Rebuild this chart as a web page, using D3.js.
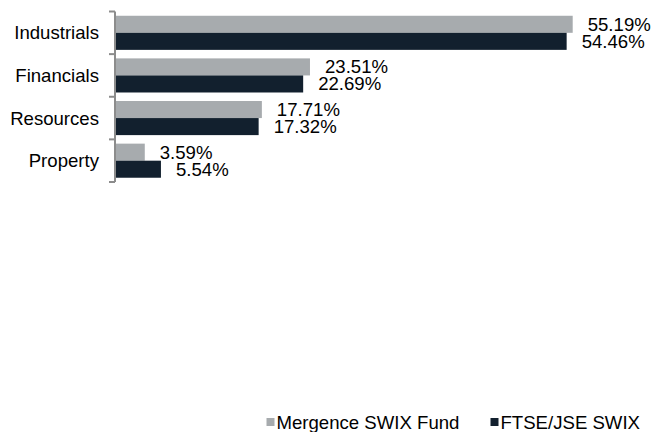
<!DOCTYPE html>
<html>
<head>
<meta charset="utf-8">
<script src="https://cdn.jsdelivr.net/npm/d3@7"></script>
<style>
  body { margin: 0; background: #fff; }
  svg { display: block; font-family: "Liberation Sans", Arial, sans-serif; }
</style>
</head>
<body>
<div class="container"></div>
<script>
var categories = ["Industrials", "Financials", "Resources", "Property"];
var seriesNames = ["Mergence SWIX Fund", "FTSE/JSE SWIX"];
var fundValues = [55.19, 23.51, 17.71, 3.59];
var indexValues = [54.46, 22.69, 17.32, 5.54];

const WIDTH = 651;
const HEIGHT = 432;
const COLORS = ["#a7abae", "#12202e"];
const FONT = 18.6;

var translate = function(x, y){
	return "translate(" + x + "," + y + ")";
};

var svg = d3.select('.container').append('svg')
	.attr('width', WIDTH)
	.attr('height', HEIGHT);

var xScale = d3.scaleLinear()
	.domain([0, 55.19])
	.range([115, 572.7]);

var yScale = d3.scaleBand()
	.domain(categories)
	.range([11.5, 182])
	.paddingInner(0.2)
	.paddingOuter(0.1);

var subScale = d3.scaleBand()
	.domain([0, 1])
	.range([0, yScale.bandwidth()]);

var series = [fundValues, indexValues];

// axis with ticks at band edges
var edges = categories.map(function(c){ return yScale(c) - yScale.step() * yScale.paddingInner() / 2; });
edges[0] = 11.5;
edges.push(182);

var axis = svg.append('g').attr('stroke', '#8c8c8c').attr('stroke-width', 2);
axis.append('line')
	.attr('x1', 115).attr('x2', 115)
	.attr('y1', edges[0]).attr('y2', edges[edges.length - 1]);
axis.selectAll('line.tick').data(edges)
	.enter().append('line')
	.classed('tick', true)
	.attr('x1', 109).attr('x2', 115)
	.attr('y1', function(d){ return d; })
	.attr('y2', function(d){ return d; });

svg.selectAll('text.cat').data(categories)
	.enter().append('text')
	.classed('cat', true)
	.attr('x', 99)
	.attr('y', function(d){ return yScale(d) + yScale.bandwidth() / 2; })
	.attr('dy', '0.35em')
	.attr('text-anchor', 'end')
	.attr('font-size', FONT)
	.attr('fill', '#000')
	.text(function(d){ return d; });

series.forEach(function(vals, si){
	var g = svg.append('g');
	g.selectAll('rect').data(vals)
		.enter().append('rect')
		.attr('x', xScale(0) + 1)
		.attr('y', function(d, i){ return yScale(categories[i]) + subScale(si); })
		.attr('width', function(d){ return xScale(d) - xScale(0) - 1; })
		.attr('height', subScale.bandwidth())
		.attr('fill', COLORS[si]);

	g.selectAll('text').data(vals)
		.enter().append('text')
		.attr('x', function(d){ return xScale(d) + 15; })
		.attr('y', function(d, i){ return yScale(categories[i]) + subScale(si) + subScale.bandwidth() / 2; })
		.attr('dy', '0.35em')
		.attr('font-size', FONT)
		.attr('fill', '#000')
		.text(function(d){ return d.toFixed(2) + '%'; });
});

// legend
var legendX = [266.5, 490.5];
var legend = svg.selectAll('g.legend').data(seriesNames)
	.enter().append('g')
	.classed('legend', true)
	.attr('transform', function(d, i){ return translate(legendX[i], 418); });

legend.append('rect')
	.attr('width', 8)
	.attr('height', 8)
	.attr('fill', function(d, i){ return COLORS[i]; });

legend.append('text')
	.attr('x', 10)
	.attr('y', 4)
	.attr('dy', '0.35em')
	.attr('font-size', FONT)
	.attr('fill', '#000')
	.text(function(d){ return d; });
</script>
</body>
</html>
